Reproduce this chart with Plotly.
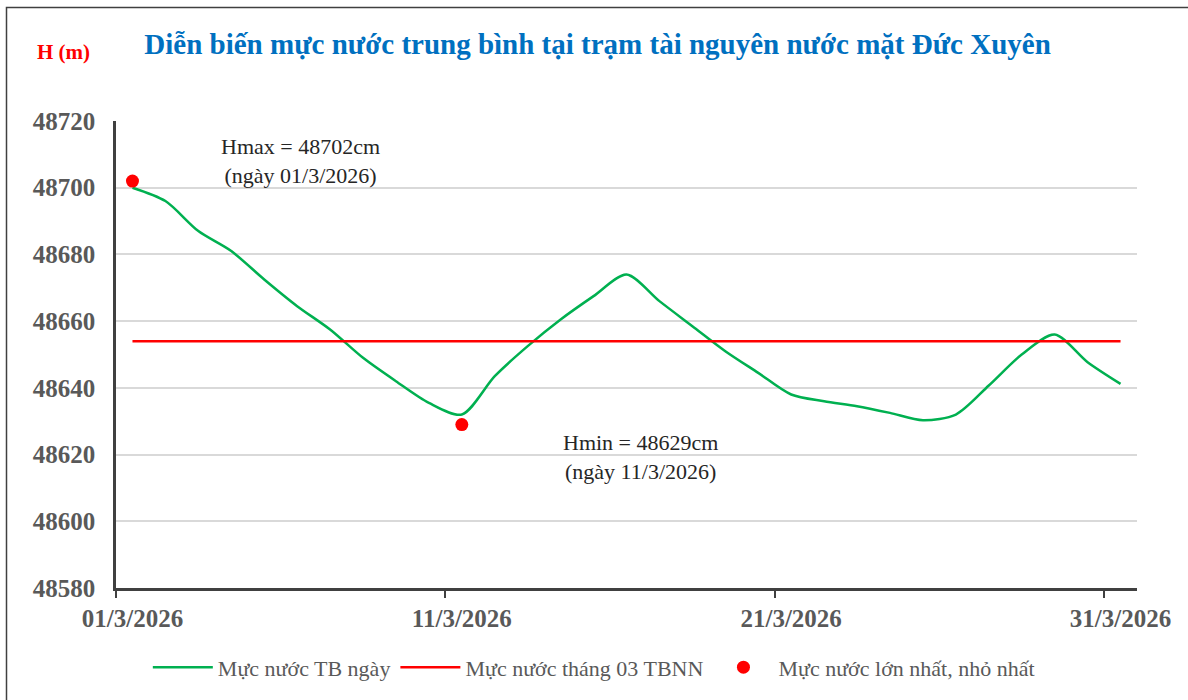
import plotly.graph_objects as go

# ---- data ----
days = list(range(1, 32))
water_level = [48700, 48696, 48687, 48681, 48672.5, 48664.5, 48657.5, 48649, 48642, 48635.5,
               48632, 48643.5, 48652.5, 48660.5, 48667.5, 48674, 48666, 48658.5, 48651, 48644.5,
               48638, 48636, 48634.5, 48632.5, 48630.3, 48632, 48640.7, 48650, 48656, 48647.7, 48641.2]
avg_level = 48654
extreme_days = [1, 11]
extreme_values = [48702, 48629]
tick_days = [1, 11, 21, 31]
tick_labels = ["01/3/2026", "11/3/2026", "21/3/2026", "31/3/2026"]
y_ticks = [48580, 48600, 48620, 48640, 48660, 48680, 48700, 48720]

FONT = "Liberation Serif"
GRAY = "#595959"

fig = go.Figure()
fig.add_trace(go.Scatter(x=days, y=water_level, mode="lines", name="Mực nước TB ngày",
                         line=dict(color="#00B050", width=2.5, shape="spline", smoothing=0.8)))
fig.add_trace(go.Scatter(x=days, y=[avg_level] * len(days), mode="lines", name="Mực nước tháng 03 TBNN",
                         line=dict(color="#FF0000", width=2.5)))
fig.add_trace(go.Scatter(x=extreme_days, y=extreme_values, mode="markers", name="Mực nước lớn nhất, nhỏ nhất",
                         marker=dict(color="#FF0000", size=13)))

fig.update_layout(
    width=1188, height=700,
    paper_bgcolor="white", plot_bgcolor="white",
    margin=dict(l=116, r=51, t=121, b=110),
    font=dict(family=FONT, color=GRAY),
    title=dict(text="<b>Diễn biến mực nước trung bình tại trạm tài nguyên nước mặt Đức Xuyên</b>",
               x=0.503, xanchor="center", y=0.937, yanchor="middle",
               font=dict(family=FONT, size=29, color="#0070C0")),
    showlegend=True,
    legend=dict(orientation="h", x=0.468, xanchor="center", y=-0.17, yanchor="middle",
                font=dict(family=FONT, size=22, color=GRAY), itemwidth=60),
    xaxis=dict(range=[0.5, 31.5], tickvals=tick_days, ticktext=tick_labels, ticks="",
               showgrid=False, zeroline=False, showline=True, linecolor="#404040", linewidth=2.5,
               tickfont=dict(family=FONT, size=25, color=GRAY, weight="bold"), ticklabelstandoff=6,
               automargin=False,
               minor=dict(tick0=0.5, dtick=10, ticks="outside", ticklen=7, tickwidth=2,
                          tickcolor="#404040", showgrid=False)),
    yaxis=dict(range=[48580, 48720], tickvals=y_ticks, tickformat="d", ticks="", showgrid=True,
               gridcolor="#D9D9D9", gridwidth=2, zeroline=False, showline=True,
               linecolor="#404040", linewidth=2.5, automargin=False,
               tickfont=dict(family=FONT, size=25, color=GRAY, weight="bold"), ticklabelstandoff=13),
)

fig.add_annotation(text="<b>H (m)</b>", xref="paper", yref="paper",
                   x=(63 - 116) / 1021, y=(590 - 52) / 469, xanchor="center", yanchor="middle",
                   showarrow=False, font=dict(family=FONT, size=21, color="#FF0000"))
fig.add_annotation(text="Hmax = 48702cm<br>(ngày 01/3/2026)", xref="paper", yref="paper",
                   x=(300 - 116) / 1021, y=(590 - 161) / 469, xanchor="center", yanchor="middle",
                   showarrow=False, font=dict(family=FONT, size=22, color="#262626"))
fig.add_annotation(text="Hmin = 48629cm<br>(ngày 11/3/2026)", xref="paper", yref="paper",
                   x=(640 - 116) / 1021, y=(590 - 458) / 469, xanchor="center", yanchor="middle",
                   showarrow=False, font=dict(family=FONT, size=22, color="#262626"))

# outer frame (top and left edge)
fig.add_shape(type="rect", xref="paper", yref="paper",
              x0=(6.5 - 116) / 1021, x1=(1200 - 116) / 1021,
              y0=(590 - 710) / 469, y1=(590 - 7) / 469,
              line=dict(color="#404040", width=1.5), fillcolor="rgba(0,0,0,0)", layer="below")

fig.write_html("out.html", config={"displayModeBar": False},
               post_script="document.body.style.margin='0';")
